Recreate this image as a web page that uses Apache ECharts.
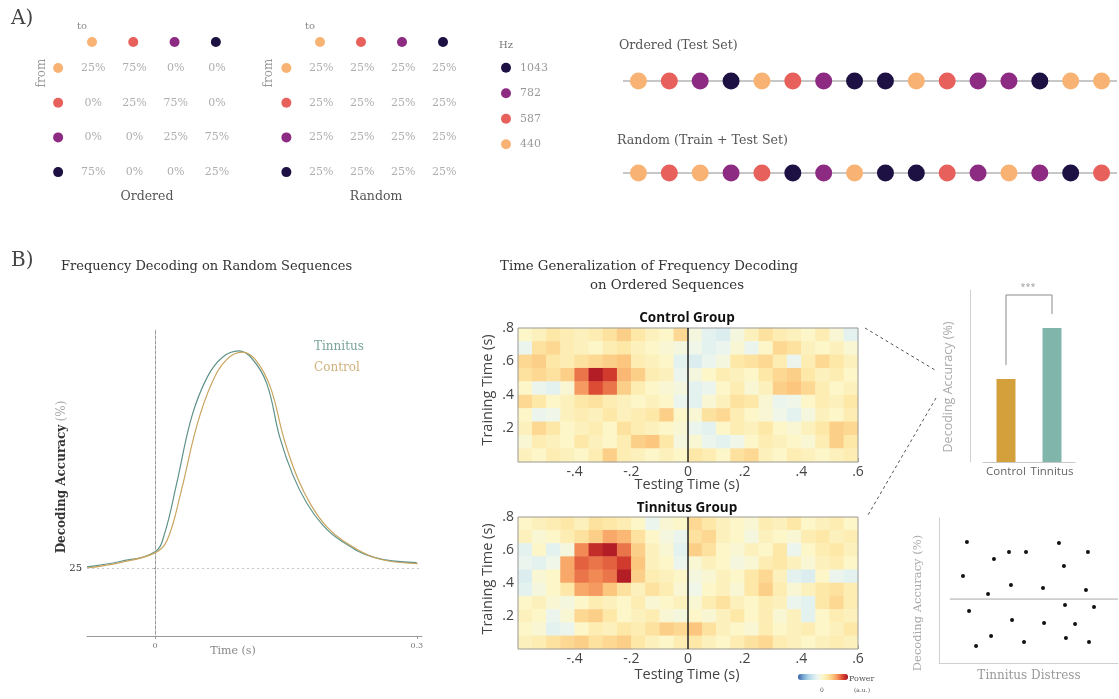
<!DOCTYPE html>
<html>
<head>
<meta charset="utf-8">
<script src="https://cdn.jsdelivr.net/npm/echarts@6/dist/echarts.min.js"></script>
<style>
  html, body { margin: 0; background: #fff; }
  #chart { width: 1119px; height: 699px; }
</style>
</head>
<body>
<div id="chart"></div>
<script>
// ---- panel A data ----
const hzLevels = [1043, 782, 587, 440];
const hzColors = { 440: '#f8b374', 587: '#e8605b', 782: '#8c2b81', 1043: '#1d1143' };
const matrixTones = [440, 587, 782, 1043];
const orderedProb = [
  [25, 75, 0, 0],
  [0, 25, 75, 0],
  [0, 0, 25, 75],
  [75, 0, 0, 25]
];
const randomProb = [
  [25, 25, 25, 25],
  [25, 25, 25, 25],
  [25, 25, 25, 25],
  [25, 25, 25, 25]
];
const orderedSeq = [440, 587, 782, 1043, 440, 587, 782, 1043, 1043, 440, 587, 782, 782, 1043, 440, 440];
const randomSeq = [440, 587, 440, 782, 587, 1043, 782, 440, 1043, 1043, 587, 782, 440, 782, 1043, 587];

// ---- panel B: decoding time course ----
const timeTinnitus = [-0.078, -0.040, 0, 0.011, 0.025, 0.042, 0.060, 0.077, 0.096, 0.111, 0.128, 0.143, 0.158, 0.174, 0.192, 0.212, 0.250, 0.300];
const accTinnitus = [25.1, 25.6, 26.5, 28.2, 32.9, 39.0, 42.7, 44.5, 45.1, 44.4, 42.1, 37.1, 33.6, 31.0, 29.0, 27.6, 26.0, 25.5];
const timeControl = [-0.078, -0.040, 0, 0.014, 0.029, 0.048, 0.065, 0.082, 0.100, 0.115, 0.132, 0.148, 0.163, 0.179, 0.197, 0.216, 0.254, 0.301];
const accControl = [25.0, 25.5, 26.4, 27.6, 31.8, 38.2, 42.1, 44.3, 45.0, 44.3, 41.8, 36.9, 33.4, 30.8, 28.8, 27.5, 25.9, 25.4];
const timeTicks = [0, 0.3];
const accTicks = [25];

// ---- panel B: time generalization maps (rows listed top = .76 down to .04) ----
const heatCols = [-0.575, -0.525, -0.475, -0.425, -0.375, -0.325, -0.275, -0.225, -0.175, -0.125, -0.075, -0.025,
  0.025, 0.075, 0.125, 0.175, 0.225, 0.275, 0.325, 0.375, 0.425, 0.475, 0.525, 0.575];
const heatRows = [0.76, 0.68, 0.60, 0.52, 0.44, 0.36, 0.28, 0.20, 0.12, 0.04];
const controlMap = [
  [0.3, 0.4, 0.6, 0.5, 0.4, 0.5, 0.7, 0.9, 0.6, 0.4, 0.3, 0.8, 0.1, -0.2, -0.3, 0.1, 0.4, 0.7, 0.5, 0.4, 0.3, 0.5, 0.2, -0.2],
  [-0.1, 0.7, 0.8, 0.5, 0.4, 0.3, 0.5, 0.6, 0.4, 0.3, 0.2, 0.1, 0.0, -0.2, -0.1, 0.2, -0.1, 0.3, 0.8, 0.7, 0.4, 0.3, 0.4, 0.2],
  [0.8, 0.9, 0.6, 0.5, 0.7, 0.8, 0.9, 1.0, 0.5, 0.4, 0.3, -0.2, -0.3, -0.1, 0.1, 0.6, 0.7, 0.8, 0.5, -0.1, 0.5, 0.8, 0.6, 0.4],
  [0.7, 0.8, 0.7, 0.9, 1.5, 2.0, 1.8, 1.1, 0.9, 0.5, 0.4, -0.1, 0.1, 0.3, 0.5, 0.4, 0.3, 0.6, 0.8, 0.9, 0.6, 0.4, 0.5, 0.3],
  [0.3, -0.1, -0.2, 0.2, 1.3, 1.7, 1.5, 0.9, 0.5, 0.3, 0.2, 0.1, -0.2, -0.1, 0.3, 0.5, 0.2, 0.4, 0.9, 1.0, 0.8, 0.5, 0.3, 0.4],
  [0.8, 0.6, 0.3, 0.4, 0.6, 0.7, 0.5, 0.4, 0.3, 0.4, 0.3, -0.1, -0.2, 0.2, 0.4, 0.7, 0.6, 0.2, -0.1, 0.0, 0.3, 0.5, 0.4, 0.6],
  [0.3, -0.1, 0.0, 0.4, 0.5, 0.4, 0.6, 0.4, 0.5, 0.6, 0.9, 0.3, 0.2, 0.7, 0.8, 0.5, 0.3, 0.2, 0.0, -0.2, 0.1, 0.4, 0.3, 0.5],
  [0.4, 0.8, 0.6, 0.3, 0.4, 0.5, 0.3, 0.7, 0.5, 0.4, 0.3, 0.2, -0.1, -0.2, 0.3, 0.5, 0.4, 0.6, 0.3, 0.2, 0.4, 0.6, 0.9, 0.8],
  [0.2, 0.5, 0.4, 0.3, 0.6, 0.4, 0.3, 0.5, 0.9, 1.0, 0.6, 0.1, 0.2, -0.1, -0.2, 0.0, 0.3, 0.5, 0.4, 0.3, 0.2, 0.5, 0.9, 0.6],
  [0.4, 0.3, 0.5, 0.4, 0.3, 0.5, 0.9, 0.5, 0.4, 0.3, 0.4, 0.3, 0.6, 0.5, 0.3, 0.7, 0.8, 0.4, 0.3, 0.5, 0.4, 0.3, 0.4, 0.5]
];
const tinnitusMap = [
  [0.3, 0.4, 0.5, 0.6, 0.4, 0.7, 0.6, 0.5, 0.3, -0.1, 0.2, 0.3, 0.8, 0.6, 0.4, 0.3, 0.2, 0.5, 0.4, 0.6, 0.3, 0.4, 0.5, 0.3],
  [0.4, 0.2, 0.3, 0.5, 0.7, 0.9, 1.2, 1.1, 0.7, 0.3, 0.1, -0.1, 0.7, 0.8, 0.4, 0.3, 0.1, 0.4, 0.3, 0.2, 0.5, 0.6, 0.4, 0.5],
  [-0.2, 0.3, -0.2, 0.1, 1.4, 1.9, 2.0, 1.5, 0.9, 0.4, 0.2, -0.2, 0.9, 0.7, 0.3, 0.2, 0.4, 0.3, 0.6, -0.1, 0.3, 0.5, 0.6, 0.4],
  [-0.1, -0.2, 0.0, 1.2, 1.6, 1.5, 1.6, 1.8, 1.0, 0.4, 0.3, -0.1, 0.2, 0.4, 0.3, 0.1, 0.2, 0.5, 0.6, 0.4, 0.2, 0.4, 0.5, 0.3],
  [-0.3, 0.2, 0.3, 1.2, 1.5, 1.4, 1.5, 2.0, 0.9, 0.5, 0.4, 0.3, 0.1, 0.2, 0.4, 0.3, 0.6, 0.8, 0.4, -0.2, -0.3, 0.3, -0.1, -0.2],
  [-0.2, 0.1, 0.3, 0.6, 1.2, 1.3, 1.0, 0.7, 0.4, 0.7, 0.5, 0.2, 0.0, 0.3, 0.4, 0.2, 0.6, 0.9, 0.5, 0.2, 0.4, 0.6, 0.7, 0.5],
  [0.3, 0.4, 0.2, 0.1, 0.3, 0.5, 0.4, 0.3, 0.5, 0.2, 0.3, 0.4, 0.2, 0.5, 0.7, 0.4, 0.3, 0.5, 0.4, -0.1, -0.2, 0.6, 0.8, 0.5],
  [0.4, 0.3, -0.1, 0.2, 0.8, 0.9, 0.6, 0.3, 0.4, 0.5, 0.2, 0.1, 0.3, 0.2, 0.4, 0.6, 0.3, 0.5, 0.2, 0.4, -0.2, 0.3, 0.5, 0.4],
  [0.3, 0.2, -0.2, -0.1, 0.3, 0.5, 0.4, 0.6, 0.5, 0.7, 0.9, 0.8, 1.0, 0.7, 0.4, 0.3, 0.2, 0.5, 0.3, 0.4, 0.5, 0.3, 0.4, 0.6],
  [0.4, 0.5, 0.7, 0.8, 0.9, 0.7, 0.8, 0.9, 0.6, 0.4, 0.3, 0.5, 0.6, 0.4, 0.3, 0.5, 0.7, 0.8, 0.5, 0.4, 0.3, 0.4, 0.5, 0.4]
];
const testTicks = [-0.4, -0.2, 0, 0.2, 0.4, 0.6];
const trainTicks = [0.2, 0.4, 0.6, 0.8];
const zeroLineX = [0, 0];
const zeroLineY = [0, 0.8];

// ---- panel B: group comparison + correlation ----
const groups = ['Control', 'Tinnitus'];
const groupAcc = [48.3, 77.9];
const groupColors = ['#d3a03c', '#80b5ac'];
const bracketX = ['Control', 'Control', 'Tinnitus', 'Tinnitus'];
const bracketY = [56.4, 97.1, 97.1, 86.0];
const distress = [15.6, 13.4, 16.8, 20.7, 27.4, 29.1, 30.7, 39.1, 40.2, 40.8, 48.6, 47.5, 58.1, 58.7, 67.0, 69.8, 70.4, 70.9, 76.0, 82.1, 83.2, 83.8, 86.6];
const distressAcc = [83.4, 60.0, 35.9, 11.7, 47.6, 18.6, 71.7, 76.6, 53.8, 29.7, 76.6, 14.5, 51.7, 27.6, 82.8, 66.9, 40.0, 17.2, 26.9, 50.3, 76.6, 14.5, 38.6];
const fitX = [6, 100];
const fitY = [44.1, 44.1];

const serif = 'DejaVu Serif';
const sans = 'Open Sans';

const grids = [], xAxes = [], yAxes = [], series = [];
function addGrid(rect, xa, ya) {
  const i = grids.length;
  grids.push(Object.assign({ containLabel: false }, rect));
  xAxes.push(Object.assign({ gridIndex: i }, xa));
  yAxes.push(Object.assign({ gridIndex: i }, ya));
  return i;
}
const clear = 'rgba(0,0,0,0)';

function addMatrix(left, width, prob) {
  const g = addGrid({ left: left, top: 33.3, width: width, height: 173.5 },
    { type: 'value', min: -1, max: 3.5, show: false },
    { type: 'value', min: -1, max: 4, inverse: true, show: false });
  series.push({
    type: 'scatter', xAxisIndex: g, yAxisIndex: g, symbolSize: 10, silent: true,
    data: matrixTones.map((hz, i) => ({ value: [i, -0.75], itemStyle: { color: hzColors[hz], opacity: 1 } }))
  });
  series.push({
    type: 'scatter', xAxisIndex: g, yAxisIndex: g, symbolSize: 10, silent: true,
    data: matrixTones.map((hz, i) => ({ value: [-0.82, i], itemStyle: { color: hzColors[hz], opacity: 1 } }))
  });
  series.push({
    type: 'scatter', xAxisIndex: g, yAxisIndex: g, symbolSize: 1, silent: true,
    itemStyle: { color: clear },
    data: prob.flatMap((row, r) => row.map((p, c) => [c + 0.03, r, p])),
    label: {
      show: true, position: 'inside', formatter: p => p.value[2] + '%',
      color: '#9a9a9a', fontFamily: serif, fontSize: 11
    }
  });
}
addMatrix(50.7, 185.8, orderedProb);
addMatrix(279, 184.5, randomProb);

// Hz legend
const gHz = addGrid({ left: 506, top: 55, width: 20, height: 102 },
  { type: 'value', min: 0, max: 1, show: false },
  { type: 'category', data: hzLevels.map(String), inverse: true, show: false });
series.push({
  type: 'scatter', xAxisIndex: gHz, yAxisIndex: gHz, symbolSize: 10, silent: true,
  data: hzLevels.map(hz => ({ value: [0, String(hz)], itemStyle: { color: hzColors[hz], opacity: 1 } })),
  label: { show: true, position: 'right', distance: 9, formatter: p => p.value[1], color: '#999', fontFamily: serif, fontSize: 11 }
});

// tone sequences
function addSeq(top, seq) {
  const g = addGrid({ left: 623, top: top, width: 494, height: 20 },
    { type: 'category', data: seq.map((_, i) => 'n' + i), show: false },
    { type: 'value', min: -1, max: 1, show: false });
  series.push({
    type: 'scatter', xAxisIndex: g, yAxisIndex: g, symbolSize: 17, silent: true,
    data: seq.map((hz, i) => ({ value: ['n' + i, 0], itemStyle: { color: hzColors[hz], opacity: 1 } })),
    markLine: {
      silent: true, symbol: 'none', label: { show: false }, z: 1,
      lineStyle: { color: '#b5b5b5', width: 1.5, type: 'solid' },
      data: [{ yAxis: 0 }]
    }
  });
}
addSeq(71, orderedSeq);
addSeq(163, randomSeq);

// decoding time course
const gLine = addGrid({ left: 87, top: 330, width: 335, height: 306 },
  {
    type: 'value', min: -0.078, max: 0.306, splitLine: { show: false },
    axisLine: { show: true, lineStyle: { color: '#999', width: 1 } },
    axisTick: { show: true, customValues: timeTicks, length: 3, lineStyle: { color: '#999' } },
    axisLabel: { customValues: timeTicks, formatter: v => String(v), color: '#777', fontFamily: serif, fontSize: 8, margin: 6 }
  },
  {
    type: 'value', min: 18.7, max: 47.04, splitLine: { show: false },
    axisLine: { show: true, lineStyle: { color: '#999', width: 1 } },
    axisTick: { show: true, customValues: accTicks, length: 3, lineStyle: { color: '#999' } },
    axisLabel: { customValues: accTicks, color: '#333', fontFamily: serif, fontSize: 10, margin: 5 }
  });
series.push({
  name: 'Tinnitus', type: 'line', xAxisIndex: gLine, yAxisIndex: gLine, smooth: 0.4, showSymbol: false,
  lineStyle: { color: '#5f938a', width: 1.2 }, itemStyle: { color: '#5f938a' },
  data: timeTinnitus.map((t, i) => [t, accTinnitus[i]]),
  markLine: {
    silent: true, symbol: 'none', label: { show: false },
    lineStyle: { color: '#c8c8c8', width: 1, type: [2, 3] },
    data: [{ xAxis: 0 }, { yAxis: 25 }]
  }
});
series.push({
  name: 'Control', type: 'line', xAxisIndex: gLine, yAxisIndex: gLine, smooth: 0.4, showSymbol: false,
  lineStyle: { color: '#c9a55f', width: 1.2 }, itemStyle: { color: '#c9a55f' },
  data: timeControl.map((t, i) => [t, accControl[i]])
});

// time generalization maps
const heatIdx = [];
function fmtTick(v) {
  if (v === 0) return '0';
  return v.toFixed(1).replace('0.', '.');
}
function addHeat(top, height, map, name) {
  const g = addGrid({ left: 518, top: top, width: 340, height: height },
    { type: 'category', data: heatCols.map(String), show: false },
    { type: 'category', data: heatRows.slice().reverse().map(String), show: false });
  heatIdx.push(series.length);
  series.push({
    name: name, type: 'heatmap', xAxisIndex: g, yAxisIndex: g, silent: true,
    data: map.flatMap((row, r) => row.map((v, c) => [c, heatRows.length - 1 - r, v]))
  });
  const o = addGrid({ left: 518, top: top, width: 340, height: height, show: true, borderColor: '#9a9a9a', borderWidth: 1, z: 5 },
    {
      type: 'value', min: -0.6, max: 0.6, splitLine: { show: false }, axisLine: { show: false },
      axisTick: { show: true, inside: true, length: 4, customValues: testTicks, lineStyle: { color: '#888' } },
      axisLabel: { customValues: testTicks, formatter: fmtTick, color: '#444', fontFamily: sans, fontSize: 14, margin: 3 }
    },
    {
      type: 'value', min: 0, max: 0.8, splitLine: { show: false }, axisLine: { show: false },
      axisTick: { show: true, inside: true, length: 4, customValues: trainTicks, lineStyle: { color: '#888' } },
      axisLabel: { customValues: trainTicks, formatter: fmtTick, color: '#444', fontFamily: sans, fontSize: 14, margin: 4 }
    });
  series.push({
    type: 'line', xAxisIndex: o, yAxisIndex: o, showSymbol: false, silent: true, z: 6,
    lineStyle: { color: '#222', width: 1.5 },
    data: zeroLineX.map((x, i) => [x, zeroLineY[i]])
  });
}
addHeat(328, 134, controlMap, 'controlMap');
addHeat(517, 132, tinnitusMap, 'tinnitusMap');

// group bars
const gBar = addGrid({ left: 983, top: 290, width: 92, height: 172 },
  {
    type: 'category', data: groups, axisTick: { show: false },
    axisLine: { show: true, lineStyle: { color: '#c8c8c8' } },
    axisLabel: { interval: 0, color: '#666', fontFamily: sans, fontSize: 11.5, margin: 4 }
  },
  {
    type: 'value', min: 0, max: 100, offset: 13, splitLine: { show: false },
    axisLine: { show: true, lineStyle: { color: '#d0d0d0' } },
    axisTick: { show: false }, axisLabel: { show: false }
  });
series.push({
  type: 'bar', xAxisIndex: gBar, yAxisIndex: gBar, barWidth: 19, silent: true,
  data: groupAcc.map((v, i) => ({ value: v, itemStyle: { color: groupColors[i] } }))
});
series.push({
  type: 'line', xAxisIndex: gBar, yAxisIndex: gBar, showSymbol: false, silent: true,
  lineStyle: { color: '#8a8a8a', width: 1 },
  data: bracketX.map((x, i) => [x, bracketY[i]])
});

// distress correlation
const gSc = addGrid({ left: 939, top: 518, width: 179, height: 145 },
  {
    type: 'value', min: 0, max: 100, splitLine: { show: false },
    axisLine: { show: true, lineStyle: { color: '#cfcfcf' } }, axisTick: { show: false }, axisLabel: { show: false }
  },
  {
    type: 'value', min: 0, max: 100, splitLine: { show: false },
    axisLine: { show: true, lineStyle: { color: '#cfcfcf' } }, axisTick: { show: false }, axisLabel: { show: false }
  });
series.push({
  type: 'line', xAxisIndex: gSc, yAxisIndex: gSc, showSymbol: false, silent: true,
  lineStyle: { color: '#a8a8a8', width: 1 },
  data: fitX.map((x, i) => [x, fitY[i]])
});
series.push({
  type: 'scatter', xAxisIndex: gSc, yAxisIndex: gSc, symbolSize: 4, silent: true,
  itemStyle: { color: '#111', opacity: 1 },
  data: distress.map((x, i) => [x, distressAcc[i]])
});

function txt(x, y, text, font, fill, align, rot) {
  return {
    type: 'text', x: x, y: y, rotation: rot || 0, silent: true, z: 100,
    style: { text: text, font: font, fill: fill, align: align || 'left', verticalAlign: 'middle' }
  };
}
function dash(x1, y1, x2, y2) {
  return {
    type: 'line', silent: true, z: 100, shape: { x1: x1, y1: y1, x2: x2, y2: y2 },
    style: { stroke: '#555', lineWidth: 1, lineDash: [3, 3] }
  };
}
const R = Math.PI / 2;
const graphic = [
  txt(11, 19, 'A)', '20px ' + serif, '#444'),
  txt(77, 26, 'to', '10px ' + serif, '#888'),
  txt(305, 26, 'to', '10px ' + serif, '#888'),
  txt(42, 73, 'from', '12px ' + serif, '#999', 'center', R),
  txt(269, 73, 'from', '12px ' + serif, '#999', 'center', R),
  txt(147, 197, 'Ordered', '12.5px ' + serif, '#555', 'center'),
  txt(376, 197, 'Random', '12.5px ' + serif, '#555', 'center'),
  txt(499, 45, 'Hz', '10px ' + serif, '#777'),
  txt(619, 46, 'Ordered (Test Set)', '12.6px ' + serif, '#555'),
  txt(617, 141, 'Random (Train + Test Set)', '12.6px ' + serif, '#555'),
  txt(11, 261, 'B)', '20px ' + serif, '#444'),
  txt(61, 267, 'Frequency Decoding on Random Sequences', '13px ' + serif, '#333'),
  txt(649, 267, 'Time Generalization of Frequency Decoding', '13.3px ' + serif, '#333', 'center'),
  txt(667, 286, 'on Ordered Sequences', '13.3px ' + serif, '#333', 'center'),
  {
    type: 'text', x: 62, y: 477, rotation: R, silent: true, z: 100,
    style: {
      text: '{a|Decoding Accuracy} {b|(%)}', align: 'center', verticalAlign: 'middle',
      rich: {
        a: { font: 'bold 12px ' + serif, fill: '#333' },
        b: { font: '12px ' + serif, fill: '#aaa' }
      }
    }
  },
  txt(233, 651, 'Time (s)', '11px ' + serif, '#888', 'center'),
  txt(687, 318, 'Control Group', 'bold 13.5px ' + sans, '#111', 'center'),
  txt(687, 508, 'Tinnitus Group', 'bold 13.5px ' + sans, '#111', 'center'),
  txt(488, 390, 'Training Time (s)', '14.5px ' + sans, '#444', 'center', R),
  txt(488, 579, 'Training Time (s)', '14.5px ' + sans, '#444', 'center', R),
  txt(687, 485, 'Testing Time (s)', '14.5px ' + sans, '#444', 'center'),
  txt(687, 675, 'Testing Time (s)', '14.5px ' + sans, '#444', 'center'),
  txt(849, 679, 'Power', '8px ' + serif, '#555'),
  txt(822, 690, '0', '6px ' + serif, '#555', 'center'),
  txt(862, 690, '(a.u.)', '6px ' + serif, '#555', 'center'),
  txt(1028, 287, '***', '9px ' + sans, '#999', 'center'),
  txt(948, 387, 'Decoding Accuracy (%)', '12.5px ' + sans, '#aaa', 'center', R),
  txt(918, 603, 'Decoding Accuracy (%)', '11.5px ' + serif, '#aaa', 'center', R),
  txt(1029, 676, 'Tinnitus Distress', '12px ' + serif, '#999', 'center'),
  dash(865, 328, 935, 370),
  dash(936, 398, 868, 515)
];

const chart = echarts.init(document.getElementById('chart'), null, { renderer: 'canvas' });
chart.setOption({
  animation: false,
  backgroundColor: '#fff',
  grid: grids,
  xAxis: xAxes,
  yAxis: yAxes,
  legend: {
    data: [
      { name: 'Tinnitus', textStyle: { color: '#7aa39b' } },
      { name: 'Control', textStyle: { color: '#cfb27c' } }
    ],
    orient: 'vertical', left: 304, top: 335, icon: 'none', itemWidth: 0, itemGap: 8,
    selectedMode: false,
    textStyle: { fontFamily: serif, fontSize: 12 }
  },
  visualMap: {
    type: 'continuous', min: -1.5, max: 2.1, seriesIndex: heatIdx, calculable: false,
    orient: 'horizontal', left: 783, top: 659, itemWidth: 6, itemHeight: 50,
    showLabel: false, text: null,
    inRange: {
      color: ['#3a5fa8', '#74a6d0', '#a9d2e6', '#d2e9f0', '#eef6ee', '#fcf6c8',
        '#fde5a2', '#fcc47c', '#f38e58', '#d9442f', '#a50f22']
    }
  },
  graphic: graphic,
  series: series
});
</script>
</body>
</html>
